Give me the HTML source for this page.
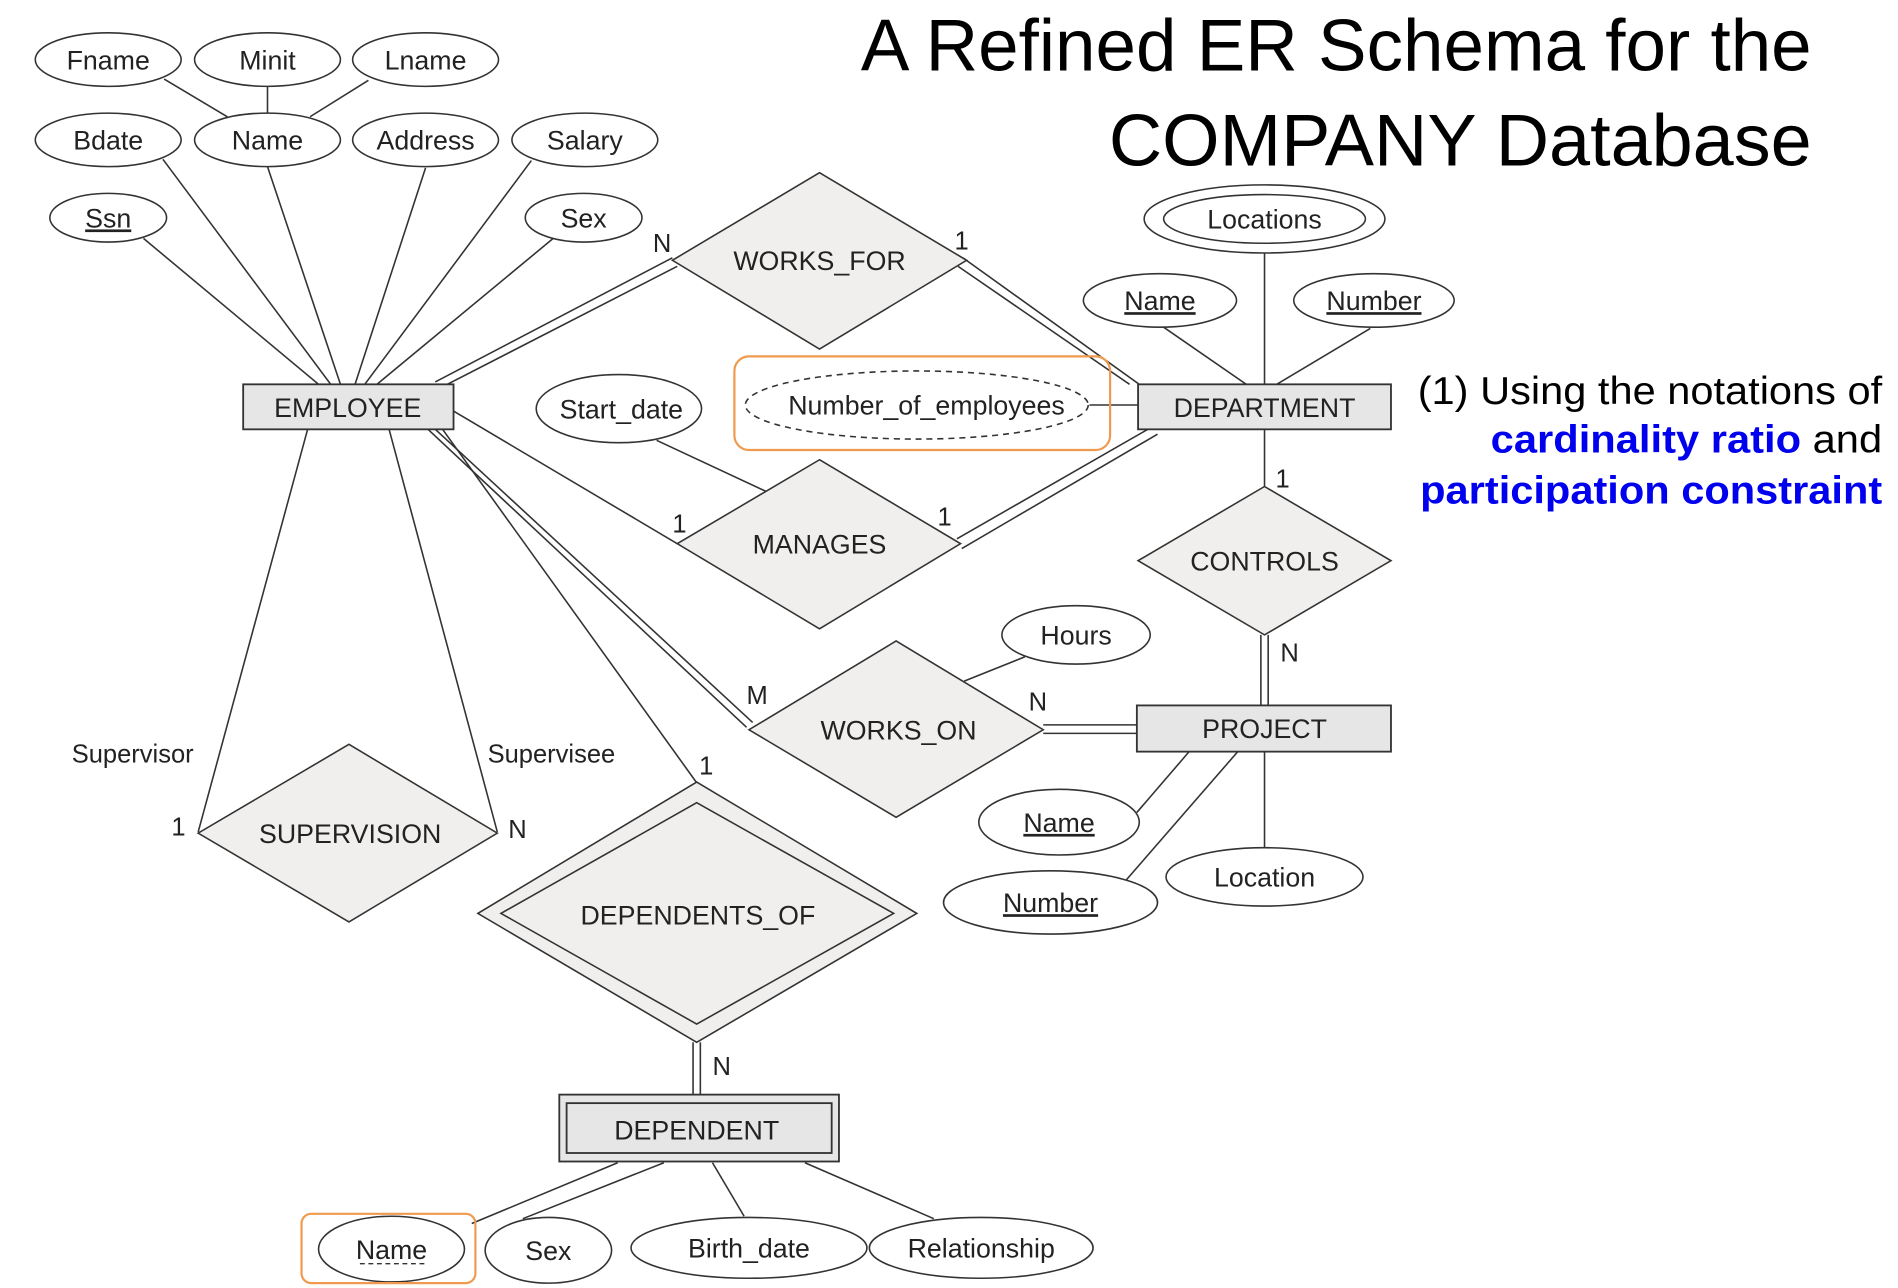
<!DOCTYPE html>
<html><head><meta charset="utf-8"><style>
html,body{margin:0;padding:0;background:#fff;}
svg{display:block;}
text{font-family:"Liberation Sans",sans-serif;fill:#222;}
</style></head><body>
<svg width="1898" height="1288" viewBox="0 0 1561 1059" preserveAspectRatio="none" xmlns="http://www.w3.org/2000/svg">
<g stroke="#333" stroke-width="1.3" fill="none">
<!-- employee attr lines -->
<line x1="135" y1="65" x2="187" y2="96"/>
<line x1="220" y1="71" x2="220" y2="93"/>
<line x1="303" y1="66" x2="255" y2="96"/>
<line x1="118" y1="196" x2="262" y2="316"/>
<line x1="134" y1="131" x2="272" y2="316"/>
<line x1="220" y1="137" x2="280" y2="316"/>
<line x1="350" y1="138" x2="292" y2="316"/>
<line x1="437" y1="132" x2="300" y2="316"/>
<line x1="455" y1="196" x2="310" y2="316"/>
<!-- works_for -->
<line x1="358" y1="314" x2="553" y2="212"/>
<line x1="364" y1="318" x2="557" y2="219"/>
<line x1="792" y1="212" x2="937" y2="316"/>
<line x1="788" y1="219" x2="929" y2="316"/>
<!-- dept attrs -->
<line x1="1040" y1="208" x2="1040" y2="316"/>
<line x1="957" y1="269" x2="1025" y2="316"/>
<line x1="1127" y1="270" x2="1050" y2="316"/>
<line x1="896" y1="333" x2="936" y2="333"/>
<!-- manages -->
<line x1="540" y1="362" x2="630" y2="404"/>
<line x1="373" y1="338" x2="557" y2="447"/>
<line x1="787" y1="443" x2="944" y2="353"/>
<line x1="791" y1="451" x2="952" y2="357"/>
<!-- controls -->
<line x1="1040" y1="353" x2="1040" y2="400"/>
<line x1="1037" y1="522" x2="1037" y2="580"/>
<line x1="1043" y1="522" x2="1043" y2="580"/>
<!-- works_on -->
<line x1="843" y1="540" x2="793" y2="560"/>
<line x1="352" y1="353" x2="614" y2="598"/>
<line x1="358" y1="353" x2="619" y2="594"/>
<line x1="858" y1="596" x2="935" y2="596"/>
<line x1="858" y1="603" x2="935" y2="603"/>
<!-- project attrs -->
<line x1="978" y1="618" x2="935" y2="668"/>
<line x1="1018" y1="618" x2="925" y2="725"/>
<line x1="1040" y1="618" x2="1040" y2="697"/>
<!-- supervision -->
<line x1="253" y1="353" x2="163" y2="684"/>
<line x1="320" y1="353" x2="409" y2="684"/>
<!-- dependents_of -->
<line x1="364" y1="353" x2="574" y2="645"/>
<line x1="570" y1="857" x2="570" y2="900"/>
<line x1="576" y1="857" x2="576" y2="900"/>
<!-- dependent attrs -->
<line x1="508" y1="956" x2="388" y2="1006"/>
<line x1="546" y1="956" x2="430" y2="1002"/>
<line x1="586" y1="956" x2="612" y2="1000"/>
<line x1="662" y1="956" x2="768" y2="1002"/>
</g>
<g stroke="#333" stroke-width="1.3" fill="#fff">
<ellipse cx="89" cy="49" rx="60" ry="22"/>
<ellipse cx="220" cy="49" rx="60" ry="22"/>
<ellipse cx="350" cy="49" rx="60" ry="22"/>
<ellipse cx="89" cy="115" rx="60" ry="22"/>
<ellipse cx="220" cy="115" rx="60" ry="22"/>
<ellipse cx="350" cy="115" rx="60" ry="22"/>
<ellipse cx="481" cy="115" rx="60" ry="22"/>
<ellipse cx="89" cy="179" rx="48" ry="20"/>
<ellipse cx="480" cy="179" rx="48" ry="20"/>
<ellipse cx="1040" cy="180" rx="99" ry="28"/>
<ellipse cx="1040" cy="180" rx="83" ry="20"/>
<ellipse cx="954" cy="247" rx="63" ry="22"/>
<ellipse cx="1130" cy="247" rx="66" ry="22"/>
<ellipse cx="754" cy="333" rx="141" ry="28" stroke-dasharray="5,4"/>
<ellipse cx="509" cy="336" rx="68" ry="28"/>
<ellipse cx="885" cy="522" rx="61" ry="24"/>
<ellipse cx="871" cy="676" rx="66" ry="27"/>
<ellipse cx="864" cy="742" rx="88" ry="26"/>
<ellipse cx="1040" cy="721" rx="81" ry="24"/>
<ellipse cx="322" cy="1027" rx="60" ry="27"/>
<ellipse cx="451" cy="1028" rx="52" ry="27"/>
<ellipse cx="616" cy="1026" rx="97" ry="25"/>
<ellipse cx="807" cy="1026" rx="92" ry="25"/>
</g>
<g stroke="#333" stroke-width="1.3" fill="#f1efed">
<polygon points="674,142 795,214 674,287 553,214"/>
<polygon points="674,378 790,447 674,517 557,447"/>
<polygon points="1040,400 1144,461 1040,522 936,461"/>
<polygon points="737,527 858,600 737,672 616,600"/>
<polygon points="287,612 409,685 287,758 163,685"/>
<polygon points="573,643 754,751 573,857 393,751"/>
<polygon points="573,660 735,751 573,842 412,751"/>
</g>
<g stroke="#333" stroke-width="1.5" fill="#e6e6e6">
<rect x="200" y="316" width="173" height="37"/>
<rect x="936" y="316" width="208" height="37"/>
<rect x="935" y="580" width="209" height="38"/>
<rect x="460" y="900" width="230" height="55"/>
<rect x="466" y="907" width="218" height="41"/>
</g>
<g fill="none" stroke="#ef9a4e" stroke-width="1.8">
<rect x="604" y="293" width="309" height="77" rx="12"/>
<rect x="248" y="998" width="143" height="57" rx="8"/>
</g>
<g font-size="22" text-anchor="middle">
<text x="89" y="57">Fname</text><text x="220" y="57">Minit</text><text x="350" y="57">Lname</text>
<text x="89" y="123">Bdate</text><text x="220" y="123">Name</text><text x="350" y="123">Address</text><text x="481" y="123">Salary</text>
<text x="89" y="187" text-decoration="underline">Ssn</text><text x="480" y="187">Sex</text>
<text x="286" y="343">EMPLOYEE</text>
<text x="674" y="222">WORKS_FOR</text>
<text x="1040" y="188">Locations</text>
<text x="954" y="255" text-decoration="underline">Name</text>
<text x="1130" y="255" text-decoration="underline">Number</text>
<text x="1040" y="343">DEPARTMENT</text>
<text x="762" y="341">Number_of_employees</text>
<text x="511" y="344">Start_date</text>
<text x="674" y="455">MANAGES</text>
<text x="1040" y="469">CONTROLS</text>
<text x="885" y="530">Hours</text>
<text x="739" y="608">WORKS_ON</text>
<text x="1040" y="607">PROJECT</text>
<text x="871" y="684" text-decoration="underline">Name</text>
<text x="864" y="750" text-decoration="underline">Number</text>
<text x="1040" y="729">Location</text>
<text x="288" y="693">SUPERVISION</text>
<text x="574" y="760">DEPENDENTS_OF</text>
<text x="573" y="937">DEPENDENT</text>
<text x="322" y="1035">Name</text>
<text x="451" y="1036">Sex</text>
<text x="616" y="1034">Birth_date</text>
<text x="807" y="1034">Relationship</text>
</g>
<line x1="296" y1="1039" x2="350" y2="1039" stroke="#333" stroke-width="1.2" stroke-dasharray="4,3"/>
<g font-size="21">
<text x="537" y="207">N</text><text x="785" y="205">1</text>
<text x="553" y="438">1</text><text x="771" y="432">1</text>
<text x="1049" y="401">1</text><text x="1053" y="544">N</text>
<text x="614" y="579">M</text><text x="846" y="584">N</text>
<text x="59" y="627">Supervisor</text><text x="401" y="627">Supervisee</text>
<text x="141" y="687">1</text><text x="418" y="689">N</text>
<text x="575" y="637">1</text><text x="586" y="884">N</text>
</g>
<g font-size="60" text-anchor="end" style="fill:#000">
<text x="1490" y="58" textLength="782" lengthAdjust="spacingAndGlyphs" style="fill:#000">A Refined ER Schema for the</text>
<text x="1490" y="136" textLength="578" lengthAdjust="spacingAndGlyphs" style="fill:#000">COMPANY Database</text>
</g>
<g font-size="32" text-anchor="end">
<text x="1548" y="332" textLength="382" lengthAdjust="spacingAndGlyphs" style="fill:#000">(1) Using the notations of</text>
<text x="1548" y="372" textLength="322" lengthAdjust="spacingAndGlyphs" style="fill:#000"><tspan font-weight="bold" style="fill:#0000ee">cardinality ratio</tspan> and</text>
<text x="1548" y="414" textLength="380" lengthAdjust="spacingAndGlyphs" font-weight="bold" style="fill:#0000ee">participation constraint</text>
</g>
</svg>
</body></html>
